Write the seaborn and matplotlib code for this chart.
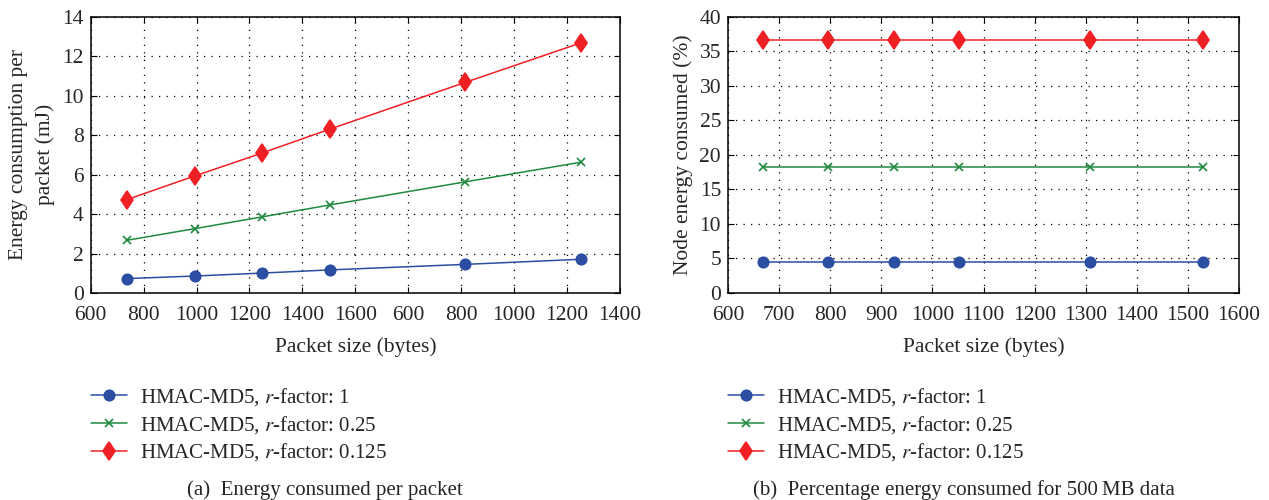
import numpy as np
import pandas as pd
import matplotlib
matplotlib.use('Agg')
import matplotlib.pyplot as plt
import seaborn as sns

# data
size_a = [736, 993, 1249, 1503, 2015, 2454]
tick_pos_a = [600, 800, 1000, 1200, 1400, 1600, 1800, 2000, 2200, 2400, 2600]
tick_lab_a = ['600', '800', '1000', '1200', '1400', '1600', '600', '800', '1000', '1200', '1400']
energy_r1 = [0.73, 0.86, 1.01, 1.17, 1.45, 1.71]
energy_r025 = [2.67, 3.26, 3.86, 4.46, 5.63, 6.63]
energy_r0125 = [4.73, 5.93, 7.10, 8.30, 10.67, 12.68]

size_b = [668, 796, 924, 1052, 1308, 1529]
pct_r1 = [4.5, 4.5, 4.5, 4.5, 4.5, 4.5]
pct_r025 = [18.3, 18.3, 18.3, 18.3, 18.3, 18.3]
pct_r0125 = [36.6, 36.6, 36.6, 36.6, 36.6, 36.6]

labels = ['HMAC-MD5, $r$-factor: 1', 'HMAC-MD5, $r$-factor: 0.25', 'HMAC-MD5, $r$-factor: 0.125']
colors = ['#2b4ea3', '#1f8a3e', '#ee2024']
markers = ['o', 'x', 'd']
msizes = [7.5, 5.5, 9.5]

sns.set_style('ticks')
plt.rcParams['font.family'] = ['Liberation Serif', 'DejaVu Serif']
plt.rcParams['mathtext.fontset'] = 'stix'
plt.rcParams['xtick.direction'] = 'in'
plt.rcParams['ytick.direction'] = 'in'

fig = plt.figure(figsize=(12.69, 5.0), dpi=100)
ax1 = fig.add_axes([0.0715, 0.414, 0.417, 0.5526])
ax2 = fig.add_axes([0.5737, 0.414, 0.4027, 0.5526])


def draw(ax, x, ys):
    for i in range(3):
        sns.lineplot(x=x, y=ys[i], ax=ax, color=colors[i], marker=markers[i],
                     markersize=msizes[i], markeredgecolor=colors[i],
                     markeredgewidth=1.2, linewidth=1.1, label=labels[i])
    ax.grid(True, linestyle=(0, (1, 5)), color='black', linewidth=0.9)
    ax.tick_params(top=True, right=True, labelsize=15.5, length=4, color='black', pad=5)
    ax.tick_params(axis='x', pad=9)
    for s in ax.spines.values():
        s.set_color('black')
        s.set_linewidth(1.1)
    ax.set_xlabel('Packet size (bytes)', fontsize=15.5, labelpad=9)


draw(ax1, size_a, [energy_r1, energy_r025, energy_r0125])
ax1.set_xlim(600, 2600)
ax1.set_ylim(0, 14)
ax1.set_xticks(tick_pos_a)
ax1.set_xticklabels(tick_lab_a)
ax1.set_yticks(range(0, 15, 2))
ax1.set_ylabel('Energy consumption per\npacket (mJ)', fontsize=15.5, labelpad=5,
               linespacing=1.5)

draw(ax2, size_b, [pct_r1, pct_r025, pct_r0125])
ax2.set_xlim(600, 1600)
ax2.set_ylim(0, 40)
ax2.set_xticks(range(600, 1700, 100))
ax2.set_yticks(range(0, 45, 5))
ax2.set_ylabel('Node energy consumed (%)', fontsize=15.5, labelpad=5)

for ax, x0 in [(ax1, 91 / 1269), (ax2, 728 / 1269)]:
    ax.get_legend().remove()
    h, l = ax.get_legend_handles_labels()
    fig.legend(h, l, loc='upper left', bbox_to_anchor=(x0, 1 - 386 / 500),
               frameon=False, fontsize=15, handlelength=1.75, handletextpad=0.6,
               labelspacing=0.28, borderpad=0, borderaxespad=0)

fig.text(325 / 1269, 1 - 490 / 500, '(a)  Energy consumed per packet', fontsize=15,
         ha='center', va='center')
fig.text(964 / 1269, 1 - 490 / 500, '(b)  Percentage energy consumed for 500\u2009MB data',
         fontsize=15, ha='center', va='center')

fig.savefig('out.png', dpi=100)
